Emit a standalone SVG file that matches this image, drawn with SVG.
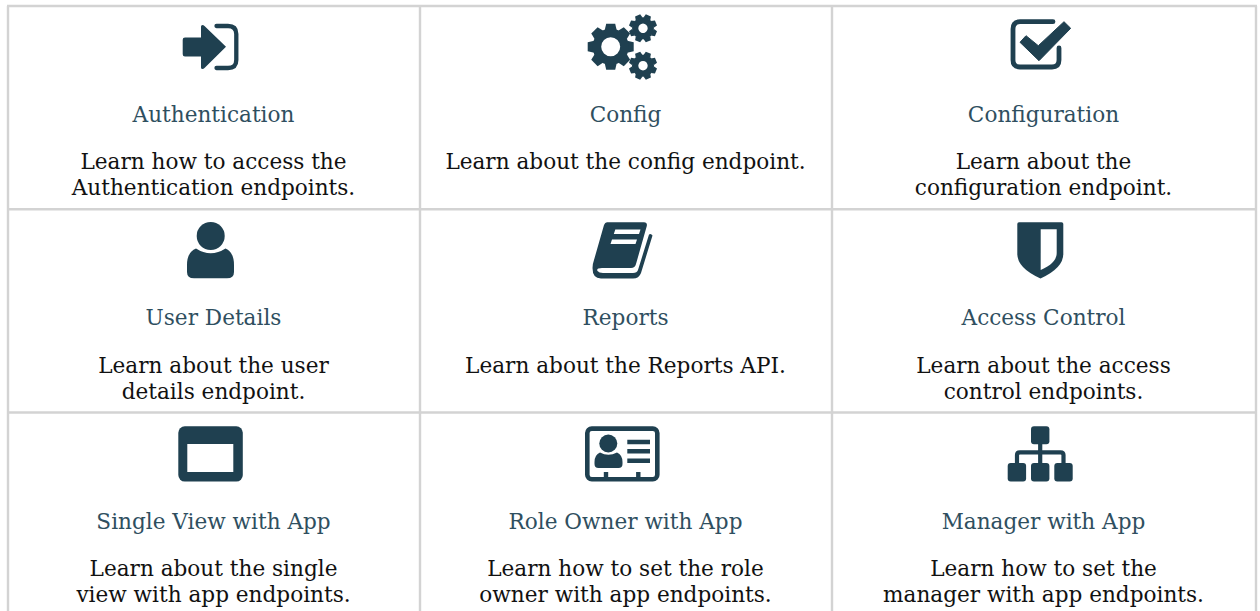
<svg xmlns="http://www.w3.org/2000/svg" width="1260" height="611" viewBox="0 0 1260 611">
<style>
text{font-family:"DejaVu Serif",serif;text-anchor:middle}
.t{font-size:21.6px;fill:#2f4f5f}
.b{font-size:21.6px;fill:#111}
.i{fill:#1f4050}
.s{fill:none;stroke:#1f4050;stroke-width:4.300;stroke-linecap:round}
.w{fill:#fff}
.g{fill:none;stroke:#d3d3d3;stroke-width:2.400}
</style>
<defs>
<g id="teeth">
<path id="tooth" class="i" d="M-6-16.500L-4.500-23H4.500L6-16.500Z"/>
<use href="#tooth" transform="rotate(45)"/><use href="#tooth" transform="rotate(90)"/><use href="#tooth" transform="rotate(135)"/><use href="#tooth" transform="rotate(180)"/><use href="#tooth" transform="rotate(225)"/><use href="#tooth" transform="rotate(270)"/><use href="#tooth" transform="rotate(315)"/>
</g>
</defs>
<rect width="1260" height="611" fill="#fff"/>
<g id="connectors">
<path class="g" d="M7 6H1257M7 209.300H1257M7 412.500H1257M8 6V611M420 6V611M832 6V611M1256 6V611"/>
</g>
<g id="authentication">
<path class="i" d="M185 37.500H201V26.500Q201 25 202.500 25Q203.500 25 204.500 26L226 46.800L204.500 68Q203.500 69 202.500 69Q201 69 201 67.500V56.500H185Q182.700 56.500 182.700 54.200V39.800Q182.700 37.500 185 37.500Z"/>
<path class="s" d="M216.500 26H228Q236.300 26 236.300 34V60Q236.300 68 228 68H216.500"/>
<text class="t" x="213.500" y="122.300">Authentication</text>
<text class="b" x="213.500" y="169.300">Learn how to access the</text>
<text class="b" x="213.500" y="195.300">Authentication endpoints.</text>
</g>
<g id="config">
<g transform="translate(610.700 46.700)"><use href="#teeth"/><circle r="13.750" fill="none" stroke="#1f4050" stroke-width="8.500"/></g>
<g transform="translate(643 28.300) rotate(22.500) scale(.61)"><use href="#teeth"/><circle r="12.850" fill="none" stroke="#1f4050" stroke-width="10.300"/></g>
<g transform="translate(643 65.700) rotate(22.500) scale(.61)"><use href="#teeth"/><circle r="12.850" fill="none" stroke="#1f4050" stroke-width="10.300"/></g>
<text class="t" x="625.500" y="122.300">Config</text>
<text class="b" x="625.500" y="169.300">Learn about the config endpoint.</text>
</g>
<g id="configuration">
<path class="s" style="stroke-width:4.800" d="M1053 21.700H1020Q1013 21.700 1013 29V60Q1013 67 1020 67H1052Q1059 67 1059 60V48"/>
<path class="i" d="M1020 42.300L1026 35.700L1038.300 45.700L1064 21.700L1070.700 28.300L1039 60.700Z" stroke="#1f4050" stroke-width="1" stroke-linejoin="round"/>
<text class="t" x="1043.500" y="122.300">Configuration</text>
<text class="b" x="1043.500" y="169.300">Learn about the</text>
<text class="b" x="1043.500" y="195.300">configuration endpoint.</text>
</g>
<g id="user-details">
<circle class="i" cx="210.700" cy="236" r="14"/>
<path class="i" d="M196 248.500Q210.700 258 225.500 248.500Q234 252 234 265V272Q234 278.300 227 278.300H194Q187 278.300 187 272V265Q187 252 196 248.500Z"/>
<text class="t" x="213.500" y="325.300">User Details</text>
<text class="b" x="213.500" y="373.300">Learn about the user</text>
<text class="b" x="213.500" y="399.300">details endpoint.</text>
</g>
<g id="reports">
<path class="i" d="M607 222.300H644Q647.500 222.300 646.800 226L636 264Q635 268 631 268H602Q596 268 597.500 271Q599 273 603 273H633Q637 273 638 270L649 234.500Q651 233 652.500 235.500L641 273Q639 278.500 633 278.500H601Q592.500 278.500 592.500 268Q592.500 264 594 260L604 225Q605 222.300 607 222.300Z"/>
<path class="w" d="M615.300 229.500H640.500L639 234H613.800ZM612 239.500H637L635.500 244H610.500Z"/>
<text class="t" x="625.500" y="325.300">Reports</text>
<text class="b" x="625.500" y="373.300">Learn about the Reports API.</text>
</g>
<g id="access-control">
<path class="i" d="M1019 222.300H1061.500Q1063.300 222.300 1063.300 224V254Q1063.300 268 1040.500 278.500Q1017.300 268 1017.300 254V224Q1017.300 222.300 1019 222.300Z"/>
<path class="w" d="M1040.700 229.300H1056.700V253Q1056.700 263 1040.700 270Z"/>
<text class="t" x="1043.500" y="325.300">Access Control</text>
<text class="b" x="1043.500" y="373.300">Learn about the access</text>
<text class="b" x="1043.500" y="399.300">control endpoints.</text>
</g>
<g id="single-view">
<rect class="i" x="178.300" y="426.300" width="64.500" height="55.300" rx="6.500"/>
<rect class="w" x="187.300" y="444" width="46" height="28"/>
<text class="t" x="213.500" y="529.300">Single View with App</text>
<text class="b" x="213.500" y="576.300">Learn about the single</text>
<text class="b" x="213.500" y="602.300">view with app endpoints.</text>
</g>
<g id="role-owner">
<rect x="587.300" y="428.600" width="70" height="50.700" rx="4.500" fill="none" stroke="#1f4050" stroke-width="4.600"/>
<circle class="i" cx="608.300" cy="443.500" r="9"/>
<path class="i" d="M600 452.500Q608.300 457 617 452.500Q622.500 455 622.500 462V464Q622.500 468 618.500 468H598.500Q594.500 468 594.500 464V462Q594.500 455 600 452.500Z"/>
<path class="i" d="M627.300 439.700H650V444.300H627.300ZM627.300 449H650V453.600H627.300ZM627.300 458.400H650V463H627.300ZM603.800 472H608.200V478H603.800ZM636.100 472H640.500V478H636.100Z"/>
<text class="t" x="625.500" y="529.300">Role Owner with App</text>
<text class="b" x="625.500" y="576.300">Learn how to set the role</text>
<text class="b" x="625.500" y="602.300">owner with app endpoints.</text>
</g>
<g id="manager">
<path fill="none" stroke="#1f4050" stroke-width="4.200" d="M1040.200 444V463M1017 463V455Q1017 452.300 1020 452.300H1060.500Q1063.500 452.300 1063.500 455V463"/>
<rect class="i" x="1031" y="426.300" width="18.400" height="18" rx="3"/>
<rect class="i" x="1007.700" y="463" width="18.400" height="18.400" rx="3"/>
<rect class="i" x="1031" y="463" width="18.400" height="18.400" rx="3"/>
<rect class="i" x="1054.300" y="463" width="18.400" height="18.400" rx="3"/>
<text class="t" x="1043.500" y="529.300">Manager with App</text>
<text class="b" x="1043.500" y="576.300">Learn how to set the</text>
<text class="b" x="1043.500" y="602.300">manager with app endpoints.</text>
</g>
</svg>
